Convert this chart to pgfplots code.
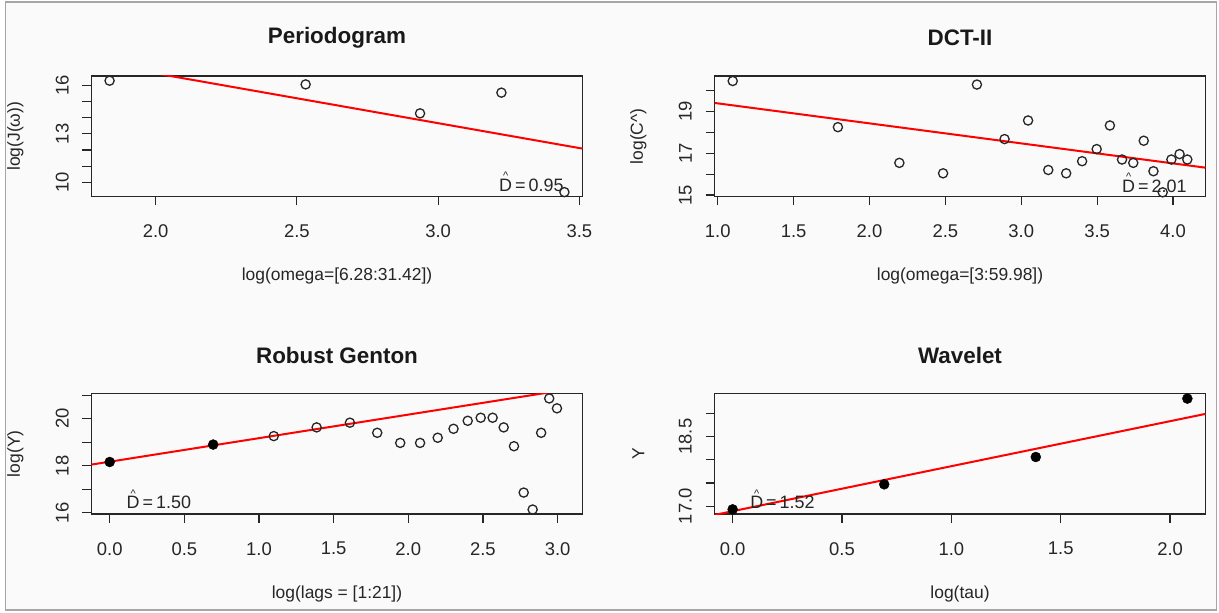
\documentclass[border=0pt]{standalone}
\usepackage{fontspec}
\setmainfont{Liberation Sans}
\usepackage{pgfplots}
\pgfplotsset{compat=1.18}
\newcommand\Dhat{\ooalign{D\cr\hidewidth\raisebox{0.66em}{\fontsize{11}{11}\selectfont\textasciicircum}\hidewidth\cr}}
\pgfplotsset{
  rstyle/.style={
    scale only axis, width=491bp, height=120.5bp,
    axis line style={line width=1.6bp, black!85},
    tick align=outside, major tick length=9bp,
    every tick/.style={line width=1.2bp, black!85},
    tick pos=left,
    font=\fontsize{17.5}{20}\selectfont,
    ticklabel style={font=\fontsize{18.5}{20}\selectfont, text=black!85},
    yticklabel style={xshift=-13.5bp, rotate=90, anchor=south, inner sep=0pt},
    xticklabel style={yshift=-19bp, anchor=north, inner sep=0pt},
    title style={font=\bfseries\fontsize{22.5}{25}\selectfont, at={(axis description cs:0.5,1.266)}, anchor=center, text=black!90},
    xlabel style={at={(axis description cs:0.5,-0.66)}, anchor=center, text=black!85},
    ylabel style={at={(axis description cs:-0.155,0.5)}, anchor=center, text=black!85},
    clip=true,
  },
  opencirc/.style={only marks, mark=o, mark size=4.6bp, mark options={line width=1.3bp, black!85}},
  fillcirc/.style={only marks, mark=*, mark size=5bp, mark options={black}},
  fitline/.style={red, line width=2bp, no marks},
}
\begin{document}
\begin{tikzpicture}
\useasboundingbox (0bp,0bp) rectangle (1219bp,613bp);
\fill[white] (0bp,0bp) rectangle (1219bp,613bp);
\draw[fill=black!2, draw=black!35, line width=1.5bp] (5.5bp,3bp) rectangle (1216.5bp,611bp);

% Periodogram
\begin{axis}[rstyle, at={(91.5bp,416.5bp)}, anchor=south west,
  xmin=1.773, xmax=3.511, ymin=9.13, ymax=16.58,
  xtick={2,2.5,3,3.5}, xticklabels={2.0,2.5,3.0,3.5},
  ytick={10,11,12,13,14,15,16}, yticklabels={10,,,13,,,16},
  title={Periodogram}, xlabel={log(omega=[6.28:31.42])}, ylabel={log(J(ω))}]
\addplot[opencirc] coordinates {(1.837,16.29) (2.531,16.06) (2.936,14.27) (3.224,15.55) (3.447,9.40)};
\addplot[fitline] coordinates {(1.773,17.44) (3.511,12.09)};
\node[anchor=base west, inner sep=0pt, font=\fontsize{18}{20}\selectfont, text=black!85] at (rel axis cs:0.830,0.041) {\Dhat\,=\,0.95};
\end{axis}

% DCT-II
\begin{axis}[rstyle, at={(714.5bp,416.5bp)}, anchor=south west,
  xmin=0.979, xmax=4.214, ymin=14.93, ymax=20.70,
  xtick={1,1.5,2,2.5,3,3.5,4}, xticklabels={1.0,1.5,2.0,2.5,3.0,3.5,4.0},
  ytick={15,16,17,18,19,20}, yticklabels={15,,17,,19,},
  title={DCT-II}, xlabel={log(omega=[3:59.98])}, ylabel={log(C\textasciicircum)}]
\addplot[opencirc] coordinates {
(1.099,20.46) (1.792,18.25) (2.197,16.54) (2.485,16.04) (2.708,20.29)
(2.890,17.68) (3.045,18.57) (3.178,16.20) (3.296,16.04) (3.401,16.62)
(3.497,17.20) (3.584,18.33) (3.664,16.70) (3.738,16.54) (3.807,17.60)
(3.871,16.14) (3.932,15.13) (3.989,16.70) (4.043,16.96) (4.094,16.70)};
\addplot[fitline] coordinates {(0.979,19.41) (4.214,16.31)};
\node[anchor=base west, inner sep=0pt, font=\fontsize{18}{20}\selectfont, text=black!85] at (rel axis cs:0.830,0.036) {\Dhat\,=\,2.01};
\end{axis}

% Robust Genton
\begin{axis}[rstyle, at={(91.5bp,99bp)}, anchor=south west,
  xmin=-0.122, xmax=3.167, ymin=15.95, ymax=21.07,
  xtick={0,0.5,1,1.5,2,2.5,3}, xticklabels={0.0,0.5,1.0,1.5,2.0,2.5,3.0},
  ytick={16,17,18,19,20,21}, yticklabels={16,,18,,20,},
  title={Robust Genton}, xlabel={log(lags = [1:21])}, ylabel={log(Y)}]
\addplot[opencirc] coordinates {
(1.099,19.26) (1.386,19.63) (1.609,19.83) (1.792,19.40) (1.946,18.97)
(2.079,18.97) (2.197,19.19) (2.303,19.57) (2.398,19.91) (2.485,20.04)
(2.565,20.04) (2.639,19.63) (2.708,18.83) (2.773,16.86) (2.833,16.14)
(2.890,19.40) (2.944,20.86) (2.996,20.44)};
\addplot[fillcirc] coordinates {(0,18.16) (0.693,18.90)};
\addplot[fitline] coordinates {(-0.122,18.05) (3.167,21.34)};
\node[anchor=base west, inner sep=0pt, font=\fontsize{18}{20}\selectfont, text=black!85] at (rel axis cs:0.0713,0.042) {\Dhat\,=\,1.50};
\end{axis}

% Wavelet
\begin{axis}[rstyle, at={(714.5bp,99bp)}, anchor=south west,
  xmin=-0.083, xmax=2.162, ymin=16.83, ymax=19.43,
  xtick={0,0.5,1,1.5,2}, xticklabels={0.0,0.5,1.0,1.5,2.0},
  ytick={17,17.5,18,18.5,19}, yticklabels={17.0,,,18.5,},
  title={Wavelet}, xlabel={log(tau)}, ylabel={Y}]
\addplot[fillcirc] coordinates {(0,16.93) (0.693,17.47) (1.386,18.06) (2.079,19.32)};
\addplot[fitline] coordinates {(-0.083,16.81) (2.162,18.99)};
\node[anchor=base west, inner sep=0pt, font=\fontsize{18}{20}\selectfont, text=black!85] at (rel axis cs:0.0724,0.042) {\Dhat\,=\,1.52};
\end{axis}
\end{tikzpicture}
\end{document}
